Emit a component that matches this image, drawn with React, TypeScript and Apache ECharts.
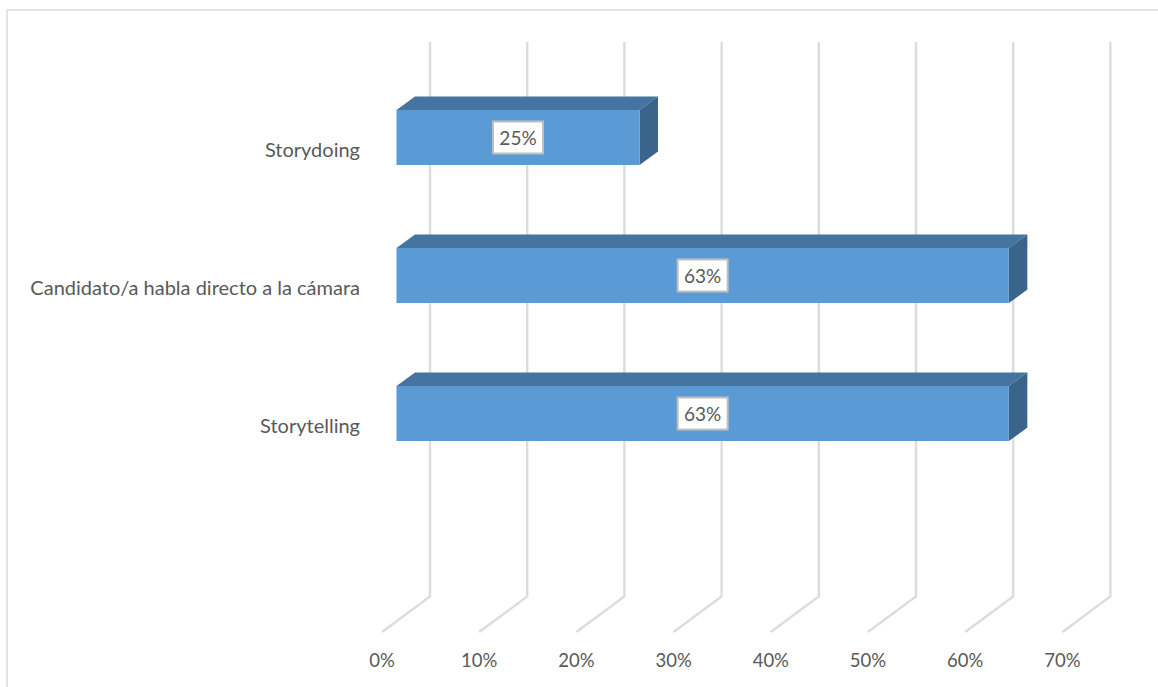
import React, { useEffect, useRef } from "react";
import * as echarts from "echarts";

// The empty first category leaves the open floor band under the lowest bar.
const categories = ["", "Storytelling", "Candidato/a habla directo a la cámara", "Storydoing"];
const seriesValues = [null, 63, 63, 25];
const xTicks = [0, 10, 20, 30, 40, 50, 60, 70];

const FONT = "Lato, 'Open Sans', sans-serif";
const TEXT = "#595959";
const GRID_LINE = "#dcdcdc";
const FRONT = "#5b9bd5";
const TOP = "#44749f";
const SIDE = "#3a6489";

// Offsets of the 3D box projection, in pixels.
const WALL_DX = 48;
const WALL_DY = -35.5;
const WALL_TOP_GAP = 38;
const BAR_DX = 14.5;
const BAR_DY = -11.5;
const DEPTH_DX = 18.5;
const DEPTH_DY = -13.5;
const LABEL_W = 50;
const LABEL_H = 32;

// A gridline runs across the floor, then up the back wall.
function renderWallLine(params: any, api: any) {
  const sys = params.coordSys;
  const x = api.coord([api.value(0), 0])[0];
  const floorY = sys.y + sys.height;
  return {
    type: "polyline",
    silent: true,
    shape: {
      points: [
        [x, floorY],
        [x + WALL_DX, floorY + WALL_DY],
        [x + WALL_DX, sys.y - WALL_TOP_GAP],
      ],
    },
    style: { stroke: GRID_LINE, lineWidth: 2.4, fill: "none" },
  };
}

// A bar is a box: front face, top face, right side, and a boxed value label.
function renderBox(_params: any, api: any) {
  const value = api.value(0);
  const start = api.coord([0, api.value(1)]);
  const end = api.coord([value, api.value(1)]);
  const h = api.size([0, 1])[1] * 0.4;
  const x0 = start[0] + BAR_DX;
  const x1 = end[0] + BAR_DX;
  const y0 = start[1] + BAR_DY - h / 2;
  const y1 = y0 + h;
  const cx = (x0 + x1) / 2;
  const cy = (y0 + y1) / 2;
  return {
    type: "group",
    children: [
      {
        type: "polygon",
        shape: {
          points: [
            [x0, y0],
            [x0 + DEPTH_DX, y0 + DEPTH_DY],
            [x1 + DEPTH_DX, y0 + DEPTH_DY],
            [x1, y0],
          ],
        },
        style: { fill: TOP },
      },
      {
        type: "polygon",
        shape: {
          points: [
            [x1, y0],
            [x1 + DEPTH_DX, y0 + DEPTH_DY],
            [x1 + DEPTH_DX, y1 + DEPTH_DY],
            [x1, y1],
          ],
        },
        style: { fill: SIDE },
      },
      {
        type: "rect",
        shape: { x: x0, y: y0, width: x1 - x0, height: h },
        style: { fill: FRONT },
      },
      {
        type: "rect",
        shape: { x: cx - LABEL_W / 2, y: cy - LABEL_H / 2, width: LABEL_W, height: LABEL_H },
        style: { fill: "#ffffff", stroke: "#bfbfbf", lineWidth: 2 },
      },
      {
        type: "text",
        x: cx,
        y: cy,
        style: {
          text: `${value}%`,
          fill: TEXT,
          font: `19px ${FONT}`,
          align: "center",
          verticalAlign: "middle",
        },
      },
    ],
  };
}

export default function App() {
  const ref = useRef<HTMLDivElement>(null);

  useEffect(() => {
    const chart = echarts.init(ref.current!, undefined, { renderer: "svg" });
    chart.setOption({
      animation: false,
      backgroundColor: "#ffffff",
      grid: { left: 382, top: 80, width: 680.4, height: 552, containLabel: false },
      graphic: [
        {
          type: "polyline",
          silent: true,
          shape: { points: [[7, 687], [7, 10], [1158, 10]] },
          style: { stroke: "#e4e4e4", lineWidth: 2, fill: "none" },
        },
      ],
      xAxis: {
        type: "value",
        min: 0,
        max: 70,
        interval: 10,
        axisLine: { show: false },
        axisTick: { show: false },
        splitLine: { show: false },
        axisLabel: {
          formatter: "{value}%",
          color: TEXT,
          fontFamily: FONT,
          fontSize: 18.5,
          margin: 18,
        },
      },
      yAxis: {
        type: "category",
        data: categories,
        axisLine: { show: false },
        axisTick: { show: false },
        splitLine: { show: false },
        axisLabel: {
          interval: 0,
          color: TEXT,
          fontFamily: FONT,
          fontSize: 20,
          margin: 22,
        },
      },
      series: [
        {
          type: "custom",
          z: 1,
          silent: true,
          renderItem: renderWallLine,
          encode: { x: 0 },
          data: xTicks.map((t) => [t]),
        },
        {
          type: "custom",
          z: 2,
          silent: true,
          renderItem: renderBox,
          encode: { x: 0, y: 1 },
          data: seriesValues
            .map((v, i) => [v, i])
            .filter((d) => d[0] !== null),
        },
      ],
    });
    return () => chart.dispose();
  }, []);

  return (
    <div
      ref={ref}
      style={{ position: "absolute", left: 0, top: 0, width: 1158, height: 687 }}
    />
  );
}
